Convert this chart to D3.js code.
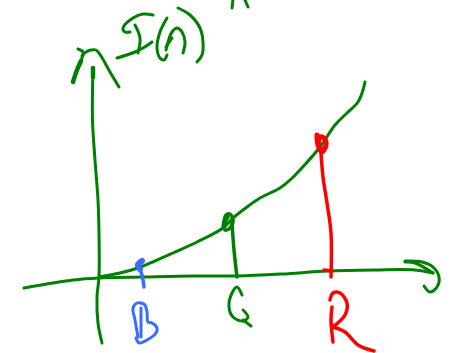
<!DOCTYPE html>
<html>
<head>
<meta charset="utf-8">
<script src="https://cdn.jsdelivr.net/npm/d3@7"></script>
<style>
  html, body { margin: 0; padding: 0; background: #fff; }
  svg { display: block; }
</style>
</head>
<body>
<svg id="chart" width="455" height="353"></svg>
<script>
// all values are [wavelength, intensity] in sketch units, origin where the axes cross
var curve = [[0,0],[21,4],[39,9],[56,16],[74,24],[98,35],[124,49],[134,59],[148,70],[161,79],[181,89],[191,97],[201,107],[221,130],[236,152],[248,164],[259,175],[264,187],[266,195]];
var yAxisLine = [[-6,209],[-6.5,157],[-4,117],[-1,77],[0,44],[0,0],[-2,-20],[-1,-46],[3,-66]];
var yHeadLeft = [[-21,228],[-16,225],[-17,219],[-22,207],[-26,195]];
var yHeadThick = [[-18,216],[-22,207],[-26,195]];
var yHeadRight = [[-17,221],[-13,225],[-8,227],[-3,227],[2,221],[11,205],[20,190]];
var yAxisTip = [[-6,209],[-6,200]];
var xAxisLine = [[-75,-11],[-46,-6],[-26,-3],[0,-1],[44,0],[94,1],[138,1],[183,3],[229,6],[276,7],[316,7],[334,4]];
var xHeadOuter = [[306,16],[323,15],[334,10],[340,0],[338,-10],[331,-15],[325,-9]];
var xHeadInner = [[306,15],[316,14],[334,4]];

// marks at B, G and R
var blueDrop = [[43,17],[38,12],[42,5],[44,-3],[45,-10]];
var blueBlob = [[43,16],[39,12],[41,8]];
var greenDrop = [[133,54],[135,27],[138,0]];
var greenKnot = [[124,49],[127,62],[131,63],[134,57],[131,49],[126,47],[126,54],[129,60]];
var redDrop = [[222,124],[224,100],[228,74],[232,44],[232,0]];
var redKnot = [[218,142],[219,132],[223,125],[227,132],[225,139],[221,140],[220,129],[224,127]];
var redTick = [[225,7],[233,6]];

// handwritten labels
var labelI = [[[54,262],[44,263],[34,259],[24,249],[26,245],[31,245]], [[36,252],[41,239],[39,224]], [[18,219],[36,225],[44,229],[53,235]]];
var labelParens = [[[68,259],[61,245],[58,229],[61,219],[65,217],[68,222]], [[79,269],[91,262],[101,249],[104,235],[103,222],[98,215]]];
var labelLambda = [[[67,227],[69,235],[73,245],[78,249],[83,245],[86,235],[84,224]], [[73,239],[67,230]]];
var labelTopEdge = [[[133,269],[134,278]], [[146,277],[149,270]]];
var labelB = [[[42,-31],[42,-60]], [[39,-60],[36,-43],[34,-31],[38,-26],[42,-26],[46,-28],[48,-35],[49,-45],[53,-46],[58,-51],[57,-56],[48,-63],[40,-66],[37,-61]]];
var labelG = [[[143,-18],[138,-10],[133,-16],[130,-30],[134,-40],[144,-44],[149,-40],[144,-33]], [[144,-43],[152,-49]]];
var labelR = [[[233,-30],[232,-43],[234,-65]], [[231,-23],[234,-16],[241,-16],[248,-26],[246,-38],[234,-50]], [[234,-50],[246,-55],[259,-68],[275,-74]]];

var green = "#008000", red = "#ff0000", blue = "#3a6cff";

var svg = d3.select("#chart");
var xScale = d3.scaleLinear().domain([-99, 356]).range([0, 455]);
var yScale = d3.scaleLinear().domain([-76, 277]).range([353, 0]);

var line = d3.line()
  .x(function(d) { return xScale(d[0]); })
  .y(function(d) { return yScale(d[1]); })
  .curve(d3.curveCatmullRom.alpha(0.5));

function ink(strokes, color, width, name) {
  var g = svg.append("g")
    .attr("fill", "none")
    .attr("stroke", color)
    .attr("stroke-width", width)
    .attr("stroke-linecap", "round")
    .attr("stroke-linejoin", "round");
  if (name) g.append("title").text(name);
  g.selectAll("path").data(strokes).join("path").attr("d", line);
}

ink([xAxisLine, xHeadOuter, xHeadInner], green, 3);
ink([yAxisLine, yHeadLeft, yHeadRight], green, 3);
ink([yHeadThick, yAxisTip], green, 4.5);
ink([curve], green, 3);
ink([greenDrop, greenKnot], green, 3.5);
ink(labelI, green, 3, "I");
ink(labelParens, green, 3);
ink(labelLambda, green, 3, "λ");
ink(labelTopEdge, green, 3);
ink(labelG, green, 3, "G");

ink([redDrop, redTick], red, 3.5);
ink([redKnot], red, 5);
ink(labelR, red, 3.5, "R");

ink([blueDrop], blue, 3.5);
ink([blueBlob], blue, 6);
ink(labelB, blue, 3, "B");
</script>
</body>
</html>
